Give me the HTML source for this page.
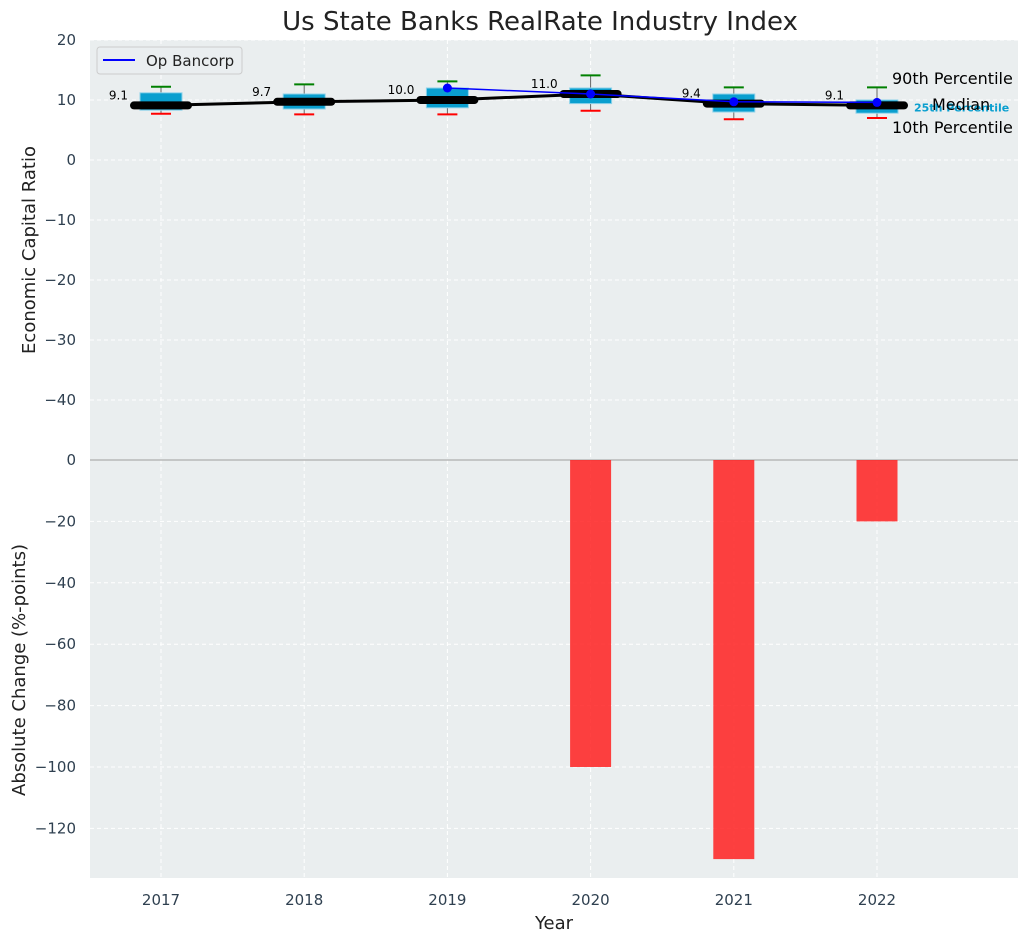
<!DOCTYPE html>
<html><head><meta charset="utf-8"><style>
body{margin:0;background:#fff;font-family:"Liberation Sans","DejaVu Sans",sans-serif}
</style></head><body>
<svg id="c" width="1029" height="942" xmlns="http://www.w3.org/2000/svg" font-family="DejaVu Sans, Liberation Sans, sans-serif"></svg>
<script>
const years=["2017","2018","2019","2020","2021","2022"];
const medians=[9.1,9.7,10.0,11.0,9.4,9.1];
const q1=[8.3,8.5,8.7,9.4,8.0,7.8];
const q3=[11.2,11.0,12.0,12.0,11.0,10.0];
const p10=[7.7,7.6,7.6,8.2,6.8,7.0];
const p90=[12.2,12.6,13.1,14.1,12.1,12.1];
const bank=[null,null,12.0,11.0,9.7,9.6];
const changes=[0,0,0,-100,-130,-20];
const topTicks=[20,10,0,-10,-20,-30,-40];
const botTicks=[0,-20,-40,-60,-80,-100,-120];

const svg=document.getElementById('c');
const NS='http://www.w3.org/2000/svg';
function el(t,a,p){const e=document.createElementNS(NS,t);for(const k in a)e.setAttribute(k,a[k]);(p||svg).appendChild(e);return e;}
const L=90,R=1018;
const x=i=>161+i*143.2;
const yT=v=>40+(20-v)*6;
const yB=v=>460-v*3.07;

let r=el('rect',{x:L,y:40,width:R-L,height:420,fill:'#eaeeef'});

r=el('rect',{x:L,y:460,width:R-L,height:418,fill:'#eaeeef'});


topTicks.forEach(v=>{el('line',{x1:L,x2:R,y1:yT(v),y2:yT(v),stroke:'#fff','stroke-dasharray':'4,3'});
 const t=el('text',{x:L-14,y:yT(v)+5,'text-anchor':'end','font-size':15,fill:'#2f4050'});t.textContent=v<0?'\u2212'+(-v):v;
 });
botTicks.forEach(v=>{el('line',{x1:L,x2:R,y1:yB(v),y2:yB(v),stroke:'#fff','stroke-dasharray':'4,3'});
 const t=el('text',{x:L-14,y:yB(v)+5,'text-anchor':'end','font-size':15,fill:'#2f4050'});t.textContent=v<0?'\u2212'+(-v):v;
 });
years.forEach((yr,i)=>{el('line',{x1:x(i),x2:x(i),y1:40,y2:878,stroke:'#fff','stroke-dasharray':'4,3'});
 const t=el('text',{x:x(i),y:905,'text-anchor':'middle','font-size':15,fill:'#2f4050'});t.textContent=yr;
 });
el('line',{x1:L,x2:R,y1:460,y2:460,stroke:'#b8b8b8','stroke-width':1.5});

years.forEach((yr,i)=>{
 const cx=x(i);
 el('line',{x1:cx,x2:cx,y1:yT(p90[i]),y2:yT(p10[i]),stroke:'#666','stroke-width':1});
 const b=el('rect',{x:cx-21,y:yT(q3[i]),width:42,height:yT(q1[i])-yT(q3[i]),fill:'#0a9fcf',stroke:'#8fd3ea','stroke-width':1});
 
 el('line',{x1:cx-10,x2:cx+10,y1:yT(p90[i]),y2:yT(p90[i]),stroke:'green','stroke-width':2});
 el('line',{x1:cx-10,x2:cx+10,y1:yT(p10[i]),y2:yT(p10[i]),stroke:'red','stroke-width':2});
});
let pts=medians.map((m,i)=>x(i)+','+yT(m)).join(' ');
let ml=el('polyline',{points:pts,fill:'none',stroke:'#000','stroke-width':3});

medians.forEach((m,i)=>{
 const s=el('line',{x1:x(i)-27,x2:x(i)+27,y1:yT(m),y2:yT(m),stroke:'#000','stroke-width':8,'stroke-linecap':'round'});
 
 const t=el('text',{x:x(i)-33,y:yT(m)-6,'text-anchor':'end','font-size':12,fill:'#000'});t.textContent=m.toFixed(1);
 
});
const bp=[];bank.forEach((v,i)=>{if(v!==null)bp.push(x(i)+','+yT(v));});
let bl=el('polyline',{points:bp.join(' '),fill:'none',stroke:'blue','stroke-width':1.5});

bank.forEach((v,i)=>{if(v===null)return;const c=el('circle',{cx:x(i),cy:yT(v),r:4.5,fill:'blue'});
 });
changes.forEach((v,i)=>{if(v===0)return;const b=el('rect',{x:x(i)-20.5,y:yB(0),width:41,height:yB(v)-yB(0),fill:'#ff2020','fill-opacity':0.85});
 });

const li=years.length-1;
function tx(s,a,name){const t=el('text',a);t.textContent=s;return t;}
tx('25th Percentile',{x:914,y:yT(medians[li])+6,'font-size':11,'font-weight':'bold',fill:'#0a9fcf'},'q1-label');
tx('90th Percentile',{x:892,y:84,'font-size':16,fill:'#000'},'p90-label');
tx('Median',{x:932,y:110,'font-size':16,fill:'#000'},'median-label-right');
tx('10th Percentile',{x:892,y:133,'font-size':16,fill:'#000'},'p10-label');

const lg=el('g',{});
el('rect',{x:97,y:47,width:145,height:27,rx:3,fill:'#eaeef0',stroke:'#ccc'},lg);
el('line',{x1:103,x2:135,y1:60,y2:60,stroke:'blue','stroke-width':2},lg);
const lt=el('text',{x:146,y:66,'font-size':15,fill:'#222'},lg);lt.textContent='Op Bancorp';

tx('Us State Banks RealRate Industry Index',{x:540,y:30,'text-anchor':'middle','font-size':26,fill:'#222'},'chart-title');
tx('Year',{x:554,y:929,'text-anchor':'middle','font-size':18,fill:'#222'},'x-axis-title');
tx('Economic Capital Ratio',{x:0,y:0,'text-anchor':'middle','font-size':18,fill:'#222',transform:'translate(35,250) rotate(-90)'},'y-axis-title-top');
tx('Absolute Change (%-points)',{x:0,y:0,'text-anchor':'middle','font-size':18,fill:'#222',transform:'translate(25,670) rotate(-90)'},'y-axis-title-bottom');
</script>
</body></html>
